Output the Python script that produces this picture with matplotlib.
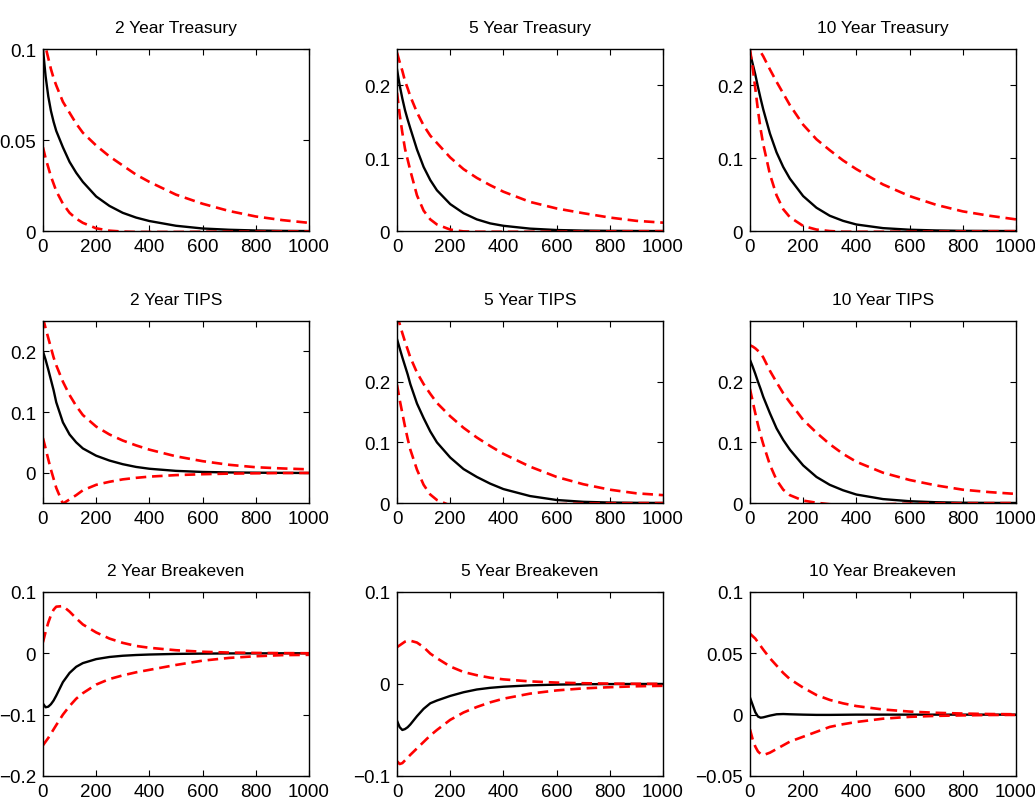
import matplotlib
matplotlib.use("Agg")
import matplotlib.pyplot as plt
from matplotlib.ticker import FuncFormatter

plt.rcParams['font.family'] = ['Liberation Sans', 'DejaVu Sans']

# horizon grid shared by every panel
horizon = [0, 10, 20, 30, 40, 50, 75, 100, 125, 150, 200, 250, 300, 350, 400, 500, 600, 700, 800, 900, 1000]

titles = ["2 Year Treasury", "5 Year Treasury", "10 Year Treasury",
          "2 Year TIPS", "5 Year TIPS", "10 Year TIPS",
          "2 Year Breakeven", "5 Year Breakeven", "10 Year Breakeven"]

# point estimates (black) and upper / lower bands (red dashed)
tsy2_mid = [0.100, 0.085, 0.074, 0.066, 0.060, 0.055, 0.046, 0.038, 0.032, 0.027, 0.019, 0.0138, 0.0100, 0.0074, 0.0055, 0.0029, 0.0014, 0.0007, 0.0003, 0.0001, 0.0]
tsy2_hi = [0.108, 0.101, 0.095, 0.089, 0.084, 0.080, 0.071, 0.065, 0.059, 0.054, 0.047, 0.041, 0.036, 0.031, 0.027, 0.020, 0.015, 0.011, 0.008, 0.006, 0.0045]
tsy2_lo = [0.046, 0.040, 0.035, 0.030, 0.026, 0.022, 0.015, 0.010, 0.0068, 0.0045, 0.0015, 0.0002, -0.0003, -0.0005, -0.0005, -0.0005, -0.0004, -0.0003, -0.0003, -0.0002, -0.0002]

tsy5_mid = [0.222, 0.200, 0.182, 0.166, 0.153, 0.141, 0.112, 0.088, 0.070, 0.056, 0.037, 0.0245, 0.016, 0.0105, 0.0072, 0.0033, 0.0014, 0.0006, 0.0003, 0.0001, 0.0]
tsy5_hi = [0.245, 0.232, 0.220, 0.206, 0.196, 0.185, 0.163, 0.145, 0.131, 0.121, 0.101, 0.085, 0.073, 0.063, 0.054, 0.040, 0.031, 0.0245, 0.0185, 0.014, 0.0115]
tsy5_lo = [0.190, 0.160, 0.135, 0.113, 0.098, 0.083, 0.049, 0.028, 0.016, 0.009, 0.002, -0.0005, -0.001, -0.001, -0.001, -0.001, -0.0008, -0.0006, -0.0004, -0.0003, -0.0002]

tsy10_mid = [0.245, 0.230, 0.215, 0.198, 0.182, 0.167, 0.134, 0.108, 0.088, 0.072, 0.048, 0.032, 0.021, 0.014, 0.009, 0.004, 0.0018, 0.0008, 0.0003, 0.0001, 0.0]
tsy10_hi = [0.255, 0.257, 0.256, 0.252, 0.246, 0.240, 0.222, 0.205, 0.189, 0.173, 0.146, 0.126, 0.111, 0.097, 0.085, 0.064, 0.048, 0.036, 0.027, 0.021, 0.016]
tsy10_lo = [0.250, 0.225, 0.196, 0.166, 0.140, 0.119, 0.078, 0.049, 0.030, 0.019, 0.007, 0.002, 0.0, -0.001, -0.001, -0.001, -0.0008, -0.0006, -0.0004, -0.0003, -0.0002]

tips2_mid = [0.200, 0.186, 0.170, 0.153, 0.136, 0.116, 0.083, 0.063, 0.050, 0.040, 0.028, 0.020, 0.014, 0.0095, 0.0065, 0.003, 0.0012, 0.0004, 0.0, -0.0003, -0.0005]
tips2_hi = [0.255, 0.238, 0.222, 0.206, 0.190, 0.177, 0.150, 0.128, 0.110, 0.095, 0.076, 0.063, 0.053, 0.045, 0.038, 0.027, 0.019, 0.013, 0.009, 0.007, 0.0055]
tips2_lo = [0.057, 0.040, 0.022, 0.005, -0.010, -0.025, -0.051, -0.044, -0.037, -0.029, -0.020, -0.015, -0.011, -0.0085, -0.0065, -0.004, -0.0025, -0.0015, -0.001, -0.0006, -0.0004]

tips5_mid = [0.270, 0.255, 0.240, 0.226, 0.212, 0.196, 0.164, 0.140, 0.118, 0.100, 0.075, 0.056, 0.043, 0.032, 0.023, 0.0115, 0.005, 0.002, 0.0008, 0.0003, 0.0001]
tips5_hi = [0.310, 0.295, 0.280, 0.266, 0.253, 0.240, 0.215, 0.196, 0.180, 0.165, 0.143, 0.124, 0.108, 0.094, 0.081, 0.060, 0.043, 0.031, 0.022, 0.016, 0.013]
tips5_lo = [0.195, 0.170, 0.148, 0.126, 0.106, 0.088, 0.055, 0.030, 0.014, 0.005, -0.004, -0.008, -0.008, -0.007, -0.006, -0.004, -0.002, -0.0008, -0.0004, -0.0002, -0.0001]

tips10_mid = [0.236, 0.225, 0.213, 0.200, 0.188, 0.175, 0.148, 0.123, 0.104, 0.088, 0.062, 0.043, 0.030, 0.021, 0.014, 0.0065, 0.003, 0.0013, 0.0005, 0.0002, 0.0001]
tips10_hi = [0.260, 0.258, 0.255, 0.251, 0.247, 0.240, 0.218, 0.199, 0.181, 0.166, 0.137, 0.116, 0.097, 0.081, 0.068, 0.050, 0.038, 0.029, 0.022, 0.018, 0.015]
tips10_lo = [0.188, 0.168, 0.148, 0.129, 0.112, 0.097, 0.063, 0.038, 0.022, 0.013, 0.004, 0.0005, -0.002, -0.003, -0.003, -0.002, -0.001, -0.0006, -0.0004, -0.0002, -0.0001]

be2_mid = [-0.082, -0.088, -0.087, -0.083, -0.077, -0.069, -0.047, -0.032, -0.022, -0.016, -0.0095, -0.006, -0.004, -0.0028, -0.002, -0.001, -0.0005, -0.0002, -0.0001, 0.0, 0.0]
be2_hi = [0.018, 0.035, 0.050, 0.062, 0.071, 0.076, 0.077, 0.068, 0.057, 0.047, 0.034, 0.024, 0.017, 0.012, 0.009, 0.005, 0.0025, 0.0012, 0.0006, 0.0003, 0.0001]
be2_lo = [-0.150, -0.144, -0.138, -0.131, -0.124, -0.117, -0.100, -0.086, -0.074, -0.065, -0.051, -0.042, -0.036, -0.031, -0.027, -0.019, -0.012, -0.0075, -0.0048, -0.003, -0.0025]

be5_mid = [-0.040, -0.047, -0.050, -0.049, -0.047, -0.044, -0.035, -0.027, -0.021, -0.018, -0.013, -0.009, -0.006, -0.0042, -0.003, -0.0015, -0.0007, -0.0003, -0.0001, 0.0, 0.0]
be5_hi = [0.040, 0.042, 0.044, 0.046, 0.047, 0.047, 0.045, 0.040, 0.033, 0.028, 0.019, 0.013, 0.0095, 0.0068, 0.005, 0.0028, 0.0015, 0.0008, 0.0004, 0.0002, 0.0001]
be5_lo = [-0.084, -0.087, -0.086, -0.083, -0.080, -0.077, -0.070, -0.063, -0.056, -0.050, -0.039, -0.031, -0.025, -0.020, -0.016, -0.0105, -0.007, -0.0048, -0.0035, -0.0025, -0.002]

be10_mid = [0.014, 0.008, 0.002, -0.0015, -0.0025, -0.0022, -0.0008, 0.0003, 0.0005, 0.0003, 0.0, -0.0002, -0.0002, -0.0001, 0.0, 0.0, 0.0, 0.0, 0.0, 0.0, 0.0]
be10_hi = [0.066, 0.064, 0.062, 0.059, 0.056, 0.053, 0.046, 0.040, 0.034, 0.029, 0.022, 0.016, 0.012, 0.0092, 0.007, 0.0042, 0.0025, 0.0015, 0.0009, 0.0005, 0.0003]
be10_lo = [-0.012, -0.020, -0.026, -0.030, -0.032, -0.033, -0.031, -0.028, -0.025, -0.022, -0.018, -0.014, -0.010, -0.0078, -0.006, -0.0033, -0.0018, -0.001, -0.0006, -0.0003, -0.0002]

panels = [
    (tsy2_mid, tsy2_hi, tsy2_lo), (tsy5_mid, tsy5_hi, tsy5_lo), (tsy10_mid, tsy10_hi, tsy10_lo),
    (tips2_mid, tips2_hi, tips2_lo), (tips5_mid, tips5_hi, tips5_lo), (tips10_mid, tips10_hi, tips10_lo),
    (be2_mid, be2_hi, be2_lo), (be5_mid, be5_hi, be5_lo), (be10_mid, be10_hi, be10_lo),
]

y_limits = [(0, 0.1), (0, 0.25), (0, 0.25),
            (-0.05, 0.25), (0, 0.3), (0, 0.3),
            (-0.2, 0.1), (-0.1, 0.1), (-0.05, 0.1)]
y_ticks = [[0, 0.05, 0.1], [0, 0.1, 0.2], [0, 0.1, 0.2],
           [0, 0.1, 0.2], [0, 0.1, 0.2], [0, 0.1, 0.2],
           [-0.2, -0.1, 0, 0.1], [-0.1, 0, 0.1], [-0.05, 0, 0.05, 0.1]]
x_ticks = [0, 200, 400, 600, 800, 1000]

fig = plt.figure(figsize=(10.35, 8.04), dpi=100)

col_left = [0.0415, 0.3836, 0.7246]
col_width = 0.257
row_bottom = [0.7114, 0.3731, 0.0336]
row_height = [0.2264, 0.2264, 0.2289]

fmt = FuncFormatter(lambda v, p: f"{v:g}".replace("-", "\u2212"))

for i, (mid, hi, lo) in enumerate(panels):
    r, c = divmod(i, 3)
    ax = fig.add_axes([col_left[c], row_bottom[r], col_width, row_height[r]])
    ax.plot(horizon, mid, color='black', lw=1.7)
    ax.plot(horizon, hi, color='red', lw=1.9, ls=(0, (4, 2.2)))
    ax.plot(horizon, lo, color='red', lw=1.9, ls=(0, (4, 2.2)))
    ax.set_xlim(0, 1000)
    ax.set_ylim(*y_limits[i])
    ax.set_xticks(x_ticks)
    ax.set_yticks(y_ticks[i])
    ax.yaxis.set_major_formatter(fmt)
    ax.tick_params(direction='in', top=True, right=True, length=4, width=0.8,
                   labelsize=13.5, pad=5)
    for s in ax.spines.values():
        s.set_linewidth(1.0)
    ax.set_title(titles[i], fontsize=12.5, pad=12)

fig.savefig("out.png", dpi=100)
